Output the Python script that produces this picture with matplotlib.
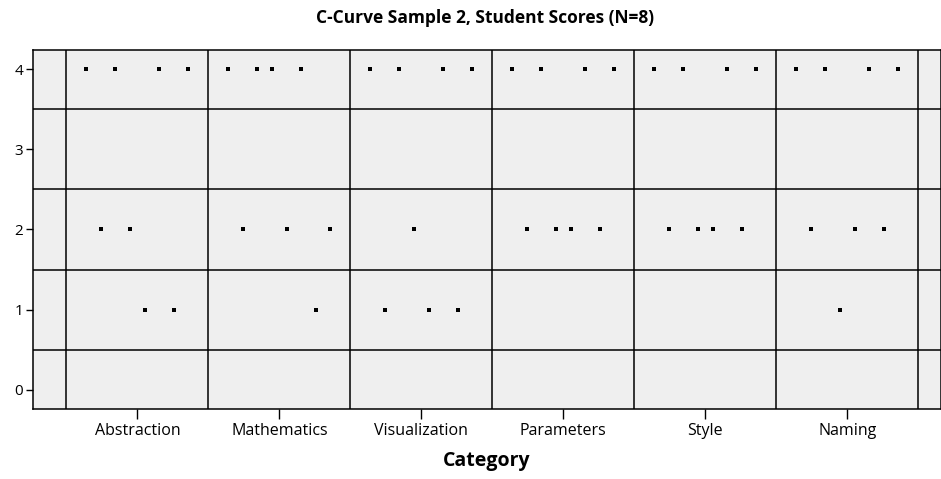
import numpy as np
import matplotlib
matplotlib.use("Agg")
import matplotlib.pyplot as plt

plt.rcParams['font.family'] = ['Open Sans', 'DejaVu Sans']

# Scores for the 8 students in each category (student order left to right)
categories = ['Abstraction', 'Mathematics', 'Visualization', 'Parameters', 'Style', 'Naming']
abstraction = [4, 2, 4, 2, 1, 4, 1, 4]
mathematics = [4, 2, 4, 4, 2, 4, 1, 2]
visualization = [4, 1, 4, 2, 1, 4, 1, 4]
parameters = [4, 2, 4, 2, 2, 4, 2, 4]
style = [4, 2, 4, 2, 2, 4, 2, 4]
naming = [4, 2, 4, 1, 2, 4, 2, 4]
y_ticks = [0, 1, 2, 3, 4]

scores = [abstraction, mathematics, visualization, parameters, style, naming]

fig = plt.figure(figsize=(9.41, 4.79), dpi=100)
ax = fig.add_axes([33 / 941, 1 - 409 / 479, 1 - 33 / 941, (409 - 50) / 479])
ax.set_facecolor('#efefef')

# each student gets a fixed offset inside the category cell
n_students = len(abstraction)
offsets = np.linspace(-0.36, 0.36, n_students)

for i, vals in enumerate(scores):
    ax.scatter(i + offsets, vals, marker='s', s=6, color='black', linewidths=0, zorder=3)

# cell grid
for i in range(len(categories) + 1):
    ax.axvline(i - 0.5, color='black', lw=1.1, zorder=2)
for y in np.arange(0.5, 4, 1.0):
    ax.axhline(y, color='black', lw=1.1, zorder=2)

ax.set_xlim(-0.735, 5.66)
ax.set_ylim(-0.24, 4.24)
ax.set_xticks(range(len(categories)))
ax.set_xticklabels(categories, fontsize=11.5)
ax.set_yticks(y_ticks)
ax.set_yticklabels([str(v) for v in y_ticks], fontsize=11)
ax.tick_params(axis='x', direction='out', length=7, width=1, color='black', pad=3)
ax.tick_params(axis='y', direction='out', length=5, width=1, color='black', pad=2)

for s in ax.spines.values():
    s.set_color('black')
    s.set_linewidth(1.1)

ax.set_xlabel('Category', fontsize=14, fontweight='bold', labelpad=9)
fig.text(485 / 941, 1 - 18 / 479, 'C-Curve Sample 2, Student Scores (N=8)',
         ha='center', va='center', fontsize=12.5, fontweight='bold')

fig.savefig('out.png', dpi=100)
